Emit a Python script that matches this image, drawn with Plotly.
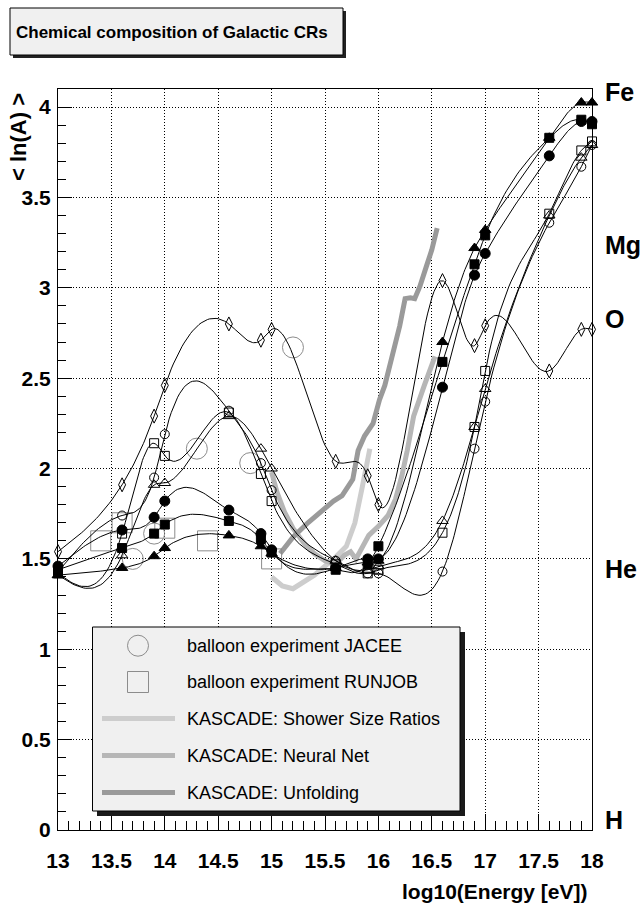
import numpy as np
import plotly.graph_objects as go

# ---------------- data ----------------
model_x = [13.0, 13.6, 13.9, 14.0, 14.6, 14.9, 15.0, 15.6, 15.9, 16.0, 16.6, 16.9, 17.0, 17.6, 17.9, 18.0]
diamond_y = [1.54, 1.91, 2.29, 2.46, 2.80, 2.71, 2.77, 2.04, 1.96, 1.80, 3.04, 2.68, 2.79, 2.54, 2.77, 2.77]
open_circle_y = [1.43, 1.74, 1.95, 2.19, 2.32, 2.03, 1.88, 1.49, 1.42, 1.42, 1.43, 2.11, 2.37, 3.36, 3.67, 3.79]
open_square_y = [1.42, 1.64, 2.14, 2.07, 2.31, 1.97, 1.82, 1.47, 1.42, 1.44, 1.645, 2.23, 2.54, 3.41, 3.76, 3.81]
open_triangle_y = [1.41, 1.52, 1.91, 1.92, 2.29, 2.11, 2.00, 1.49, 1.44, 1.46, 1.71, 2.23, 2.44, 3.40, 3.72, 3.79]
full_circle_y = [1.46, 1.66, 1.73, 1.82, 1.77, 1.64, 1.55, 1.45, 1.50, 1.50, 2.45, 3.07, 3.19, 3.73, 3.92, 3.92]
full_square_y = [1.44, 1.56, 1.64, 1.69, 1.71, 1.61, 1.535, 1.44, 1.47, 1.57, 2.59, 3.13, 3.29, 3.83, 3.93, 3.905]
full_triangle_y = [1.41, 1.45, 1.515, 1.56, 1.63, 1.57, 1.53, 1.45, 1.48, 1.49, 2.70, 3.22, 3.32, 3.83, 4.025, 4.025]

jacee_x = [13.7, 13.9, 14.3, 14.8, 15.2]
jacee_y = [1.50, 1.64, 2.11, 2.03, 2.67]
runjob_x = [13.4, 13.6, 14.0, 14.4, 15.0]
runjob_y = [1.60, 1.70, 1.67, 1.60, 1.50]

ssr_x = [15.0, 15.1, 15.2, 15.3, 15.4, 15.5, 15.6, 15.7, 15.78, 15.85, 15.92]
ssr_y = [1.40, 1.35, 1.335, 1.37, 1.41, 1.46, 1.51, 1.57, 1.70, 1.90, 2.11]

nn_x = [15.0, 15.05, 15.12, 15.2, 15.3, 15.4, 15.5, 15.6, 15.68, 15.74, 15.79, 15.84, 15.91,
        16.0, 16.09, 16.16, 16.22, 16.27, 16.33, 16.43, 16.53]
nn_y = [1.98, 1.87, 1.76, 1.67, 1.59, 1.53, 1.49, 1.47, 1.52, 1.54, 1.50, 1.56, 1.63,
        1.68, 1.74, 1.83, 1.96, 2.10, 2.29, 2.46, 2.62]

unf_x = [15.08, 15.2, 15.34, 15.47, 15.58, 15.66, 15.76, 15.81, 15.87, 15.95, 16.01, 16.06,
         16.14, 16.2, 16.25, 16.3, 16.34, 16.39, 16.45, 16.5, 16.55]
unf_y = [1.53, 1.62, 1.70, 1.77, 1.82, 1.85, 1.94, 2.10, 2.18, 2.25, 2.38, 2.46,
         2.64, 2.79, 2.94, 2.945, 2.94, 3.01, 3.12, 3.21, 3.33]

elem_names = ["Fe", "Mg", "O", "He", "H"]
elem_lnA = [4.03, 3.18, 2.77, 1.39, 0.0]

x_ticks = [13, 13.5, 14, 14.5, 15, 15.5, 16, 16.5, 17, 17.5, 18]
y_ticks = [0, 0.5, 1, 1.5, 2, 2.5, 3, 3.5, 4]

legend_labels = ["balloon experiment JACEE", "balloon experiment RUNJOB",
                 "KASCADE: Shower Size Ratios", "KASCADE: Neural Net", "KASCADE: Unfolding"]

# ---------------- geometry ----------------
W, H = 642, 905
ML, MR, MT, MB = 58, 50, 89, 75
PW, PH = W - ML - MR, H - MT - MB
XR = [13, 18]
YR = [0, 4.1]


def px(x):
    return (x - ML) / PW


def py(y):
    return (H - MB - y) / PH


def smooth(xs, ys, n=30):
    """natural cubic spline y(x) through the points (smooth curve like ROOT option C)"""
    X = np.asarray(xs, float)
    Y = np.asarray(ys, float)
    m = len(X)
    hh = np.diff(X)
    A = np.zeros((m, m))
    b = np.zeros(m)
    A[0, 0] = A[-1, -1] = 1.0
    for i in range(1, m - 1):
        A[i, i - 1] = hh[i - 1]
        A[i, i] = 2 * (hh[i - 1] + hh[i])
        A[i, i + 1] = hh[i]
        b[i] = 6 * ((Y[i + 1] - Y[i]) / hh[i] - (Y[i] - Y[i - 1]) / hh[i - 1])
    M = np.linalg.solve(A, b)
    ox, oy = [], []
    for i in range(m - 1):
        h = hh[i]
        s = np.linspace(X[i], X[i + 1], n, endpoint=False)
        u = s - X[i]
        w = X[i + 1] - s
        val = (M[i] * w ** 3 / (6 * h) + M[i + 1] * u ** 3 / (6 * h)
               + (Y[i] / h - M[i] * h / 6) * w + (Y[i + 1] / h - M[i + 1] * h / 6) * u)
        ox.extend(s.tolist())
        oy.extend(val.tolist())
    ox.append(X[-1])
    oy.append(Y[-1])
    return np.array(ox), np.array(oy)


FONT = "Liberation Sans, Arial, Helvetica, sans-serif"
C_SSR, C_NN, C_UNF = "#cdcdcd", "#b6b6b6", "#9a9a9a"
C_EXP = "#8c8c8c"

fig = go.Figure()

# KASCADE lines
for xs, ys, col in ((ssr_x, ssr_y, C_SSR), (nn_x, nn_y, C_NN), (unf_x, unf_y, C_UNF)):
    fig.add_trace(go.Scatter(x=xs, y=ys, mode="lines", line=dict(color=col, width=5),
                             showlegend=False, hoverinfo="skip"))

# balloon experiments
fig.add_trace(go.Scatter(x=jacee_x, y=jacee_y, mode="markers", showlegend=False, cliponaxis=False,
                         marker=dict(symbol="circle-open", size=21, color=C_EXP,
                                     line=dict(width=1, color=C_EXP))))
fig.add_trace(go.Scatter(x=runjob_x, y=runjob_y, mode="markers", showlegend=False, cliponaxis=False,
                         marker=dict(symbol="square-open", size=20, color=C_EXP,
                                     line=dict(width=1, color=C_EXP))))

# model predictions: smooth curves + markers
models = [
    (diamond_y, "diamond-tall-open", 10),
    (open_circle_y, "circle-open", 9),
    (open_square_y, "square-open", 9),
    (open_triangle_y, "triangle-up-open", 10),
    (full_circle_y, "circle", 10),
    (full_square_y, "square", 9),
    (full_triangle_y, "triangle-up", 10),
]
for ys, sym, sz in models:
    cx, cy = smooth(model_x, ys)
    fig.add_trace(go.Scatter(x=cx, y=cy, mode="lines", line=dict(color="black", width=1),
                             showlegend=False, hoverinfo="skip"))
for ys, sym, sz in models:
    fig.add_trace(go.Scatter(x=model_x, y=ys, mode="markers", showlegend=False, cliponaxis=False,
                             marker=dict(symbol=sym, size=sz, color="black",
                                         line=dict(width=1, color="black"))))

shapes = []
annotations = []

# title box
shapes.append(dict(type="rect", xref="paper", yref="paper", x0=px(13), x1=px(346), y0=py(58), y1=py(11),
                   fillcolor="#222222", line=dict(width=0), layer="above"))
shapes.append(dict(type="rect", xref="paper", yref="paper", x0=px(10), x1=px(343), y0=py(55), y1=py(8),
                   fillcolor="#f0f0f0", line=dict(width=1, color="black"), layer="above"))
annotations.append(dict(text="<b>Chemical composition of Galactic CRs</b>", xref="paper", yref="paper",
                        x=px(14), y=py(32), xanchor="left", yanchor="middle", showarrow=False,
                        font=dict(family=FONT, size=17, color="black")))

# legend box
shapes.append(dict(type="rect", xref="paper", yref="paper", x0=px(97), x1=px(465), y0=py(816), y1=py(632),
                   fillcolor="#1a1a1a", line=dict(width=0), layer="above"))
shapes.append(dict(type="rect", xref="paper", yref="paper", x0=px(92.5), x1=px(460), y0=py(811), y1=py(627),
                   fillcolor="#f0f0f0", line=dict(width=1, color="black"), layer="above"))
rows = [645.7, 682.0, 718.5, 755.5, 792.5]
shapes.append(dict(type="circle", xref="paper", yref="paper", x0=px(127.5), x1=px(148.5),
                   y0=py(rows[0] + 10.5), y1=py(rows[0] - 10.5), line=dict(width=1, color=C_EXP), layer="above"))
shapes.append(dict(type="rect", xref="paper", yref="paper", x0=px(127.5), x1=px(148.5),
                   y0=py(rows[1] + 10.5), y1=py(rows[1] - 10.5), line=dict(width=1, color=C_EXP), layer="above"))
for r, col in zip(rows[2:], (C_SSR, C_NN, C_UNF)):
    shapes.append(dict(type="line", xref="paper", yref="paper", x0=px(102), x1=px(175), y0=py(r), y1=py(r),
                       line=dict(width=5, color=col), layer="above"))
for r, lab in zip(rows, legend_labels):
    annotations.append(dict(text=lab, xref="paper", yref="paper", x=px(185), y=py(r), xanchor="left",
                            yanchor="middle", showarrow=False, font=dict(family=FONT, size=18, color="black")))

# element labels on the right (baseline at ln A)
for name, v in zip(elem_names, elem_lnA):
    annotations.append(dict(text="<b>%s</b>" % name, xref="paper", yref="y", x=px(603), y=v, xanchor="left",
                            yanchor="bottom", yshift=-6, showarrow=False,
                            font=dict(family=FONT, size=25, color="black")))

# axis titles
annotations.append(dict(text="<b>log10(Energy [eV])</b>", xref="paper", yref="paper", x=px(590), y=py(891),
                        xanchor="right", yanchor="middle", showarrow=False,
                        font=dict(family=FONT, size=21, color="black")))
annotations.append(dict(text="<b>< ln(A) ></b>", xref="paper", yref="paper", x=px(18), y=py(91),
                        xanchor="center", yanchor="top", textangle=-90, showarrow=False,
                        font=dict(family=FONT, size=22, color="black")))

axis_common = dict(showline=True, linecolor="black", linewidth=1, mirror=True, ticks="inside",
                   tickcolor="black", showgrid=True, gridcolor="black", gridwidth=1, griddash="1px,2px",
                   zeroline=False, tickfont=dict(family=FONT, size=21, color="black", weight="bold"))

fig.update_layout(
    width=W, height=H, margin=dict(l=ML, r=MR, t=MT, b=MB, pad=0),
    plot_bgcolor="white", paper_bgcolor="white", showlegend=False,
    xaxis=dict(range=XR, tickvals=x_ticks, ticktext=[("%g" % v) for v in x_ticks], ticklen=16,
               ticklabelstandoff=12,
               minor=dict(dtick=0.1, tick0=13, ticks="inside", ticklen=9, tickcolor="black", showgrid=False),
               **axis_common),
    yaxis=dict(range=YR, tickvals=y_ticks, ticktext=[("%g" % v) for v in y_ticks], ticklen=14,
               ticklabelstandoff=2,
               minor=dict(dtick=0.1, tick0=0, ticks="inside", ticklen=8, tickcolor="black", showgrid=False),
               **axis_common),
    shapes=shapes, annotations=annotations,
)

fig.write_html("out.html")
